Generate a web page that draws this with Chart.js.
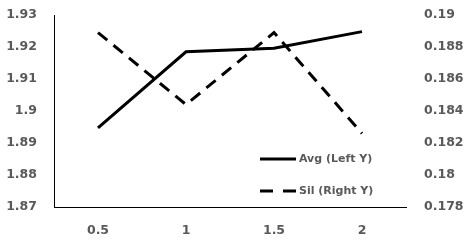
<!DOCTYPE html>
<html>
<head>
<meta charset="utf-8">
<script src="https://cdn.jsdelivr.net/npm/chart.js@4/dist/chart.umd.min.js"></script>
<style>
  html, body { margin: 0; padding: 0; background: #fff; }
  #wrap { width: 473px; height: 250px; }
</style>
</head>
<body>
<div id="wrap"><canvas id="chart"></canvas></div>
<script>
/* chart data */
const xLabels = ['0.5', '1', '1.5', '2'];
const avgValues = [1.8947, 1.9185, 1.9196, 1.9248];
const silValues = [0.1889, 0.1844, 0.1889, 0.1826];
const leftTicks = [1.87, 1.88, 1.89, 1.9, 1.91, 1.92, 1.93];
const rightTicks = [0.178, 0.18, 0.182, 0.184, 0.186, 0.188, 0.19];

const TEXT_COLOR = '#595959';
const TICK_FONT = { family: 'DejaVu Sans', size: 12.5, weight: 'bold' };

function fmt(v) {
    return String(parseFloat(v.toFixed(4)));
}

// tick padding would otherwise push the plot area down
function noPad(scale) {
    scale.paddingTop = 0;
    scale.paddingBottom = 0;
    scale.paddingLeft = 0;
    scale.paddingRight = 0;
}

// legend drawn inside the plot area, bottom right
const insideLegend = {
    id: 'insideLegend',
    afterDatasetsDraw(chart) {
        const ctx = chart.ctx;
        const area = chart.chartArea;
        const rows = [area.bottom - 48, area.bottom - 16];
        ctx.save();
        chart.data.datasets.forEach((ds, i) => {
            const y = rows[i];
            ctx.beginPath();
            ctx.strokeStyle = ds.borderColor;
            ctx.lineWidth = ds.borderWidth;
            ctx.setLineDash(ds.legendDash || []);
            ctx.moveTo(area.right - 146, y);
            ctx.lineTo(area.right - 110, y);
            ctx.stroke();
            ctx.setLineDash([]);
            ctx.fillStyle = TEXT_COLOR;
            ctx.font = 'bold 11px "DejaVu Sans"';
            ctx.textBaseline = 'middle';
            ctx.textAlign = 'left';
            ctx.fillText(ds.label, area.right - 107, y);
        });
        ctx.restore();
    }
};

var chart = new Chart(document.getElementById('chart'), {
    type: 'line',
    data: {
        labels: xLabels,
        datasets: [
            {
                label: 'Avg (Left Y)',
                data: avgValues,
                yAxisID: 'yLeft',
                borderColor: '#000',
                borderWidth: 3,
                pointRadius: 0,
                tension: 0
            },
            {
                label: 'Sil (Right Y)',
                data: silValues,
                yAxisID: 'yRight',
                borderColor: '#000',
                borderWidth: 3,
                borderDash: [12, 8],
                legendDash: [13, 10],
                pointRadius: 0,
                tension: 0
            }
        ]
    },
    options: {
        responsive: true,
        maintainAspectRatio: false,
        animation: false,
        layout: { padding: { top: 15, left: 0, right: 0, bottom: 0 } },
        plugins: {
            legend: { display: false },
            tooltip: { enabled: false }
        },
        scales: {
            x: {
                offset: true,
                grid: { display: false, drawTicks: false },
                border: { display: true, color: '#000', width: 1 },
                ticks: { color: TEXT_COLOR, font: TICK_FONT, padding: 16, maxRotation: 0 },
                afterFit(scale) { scale.height = 43; noPad(scale); }
            },
            yLeft: {
                position: 'left',
                min: 1.87,
                max: 1.93,
                grid: { display: false, drawTicks: false },
                border: { display: true, color: '#000', width: 1 },
                afterBuildTicks(scale) { scale.ticks = leftTicks.map(v => ({ value: v })); },
                ticks: { color: TEXT_COLOR, font: TICK_FONT, padding: 17, callback: fmt },
                afterFit(scale) { scale.width = 54; noPad(scale); }
            },
            yRight: {
                position: 'right',
                min: 0.178,
                max: 0.19,
                grid: { display: false, drawTicks: false },
                border: { display: false },
                afterBuildTicks(scale) { scale.ticks = rightTicks.map(v => ({ value: v })); },
                ticks: { color: TEXT_COLOR, font: TICK_FONT, padding: 18, callback: fmt },
                afterFit(scale) { scale.width = 67; noPad(scale); }
            }
        }
    },
    plugins: [insideLegend]
});
</script>
</body>
</html>
